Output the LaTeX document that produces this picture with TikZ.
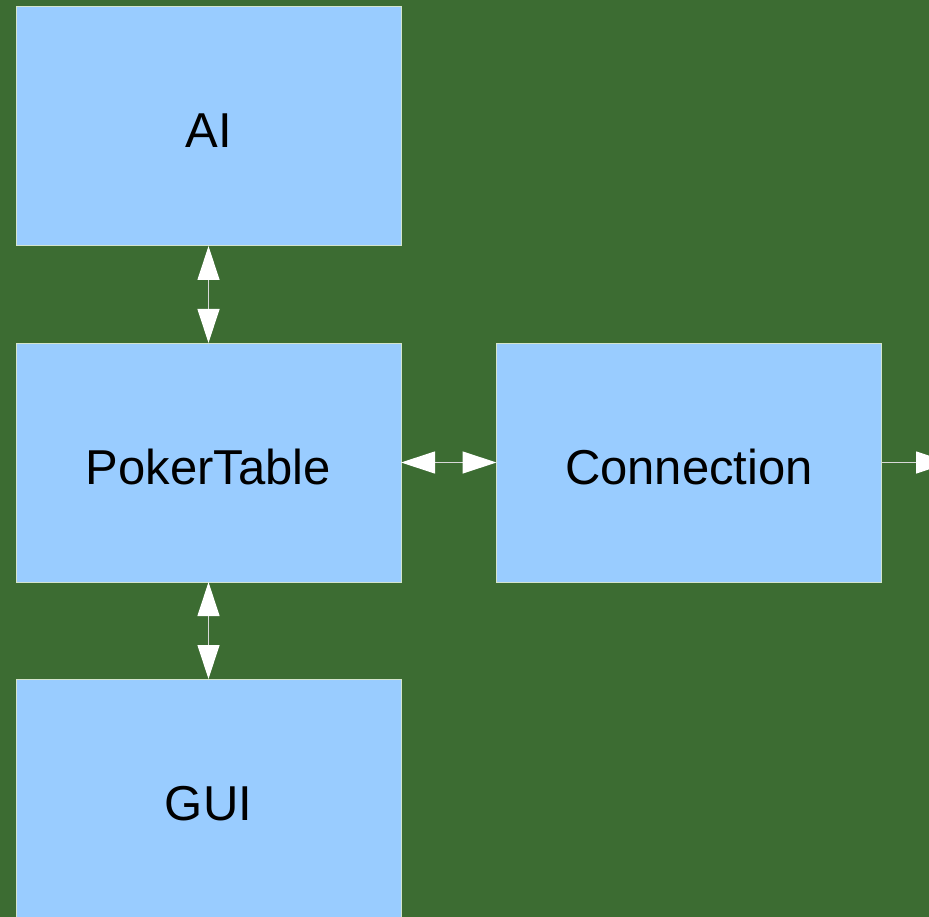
\documentclass[tikz,border=0pt]{standalone}
\usepackage{fontspec}
\setmainfont{Liberation Sans}
\usetikzlibrary{arrows.meta}
\definecolor{bggreen}{HTML}{3C6C32}
\definecolor{boxblue}{HTML}{99CCFF}
\definecolor{boxedge}{HTML}{D4E4CC}
\definecolor{arrline}{HTML}{D8D8D8}
\tikzset{
  module/.style={draw=boxedge, line width=1pt, fill=boxblue, inner sep=0pt, outer sep=0pt,
    minimum width=385pt, minimum height=239pt, font=\fontsize{49}{53}\selectfont, text=black,
    text height=43pt, text depth=0pt},
  link/.style={draw=arrline, line width=1.2pt,
    {Triangle[width=22pt,length=34pt,fill=white,color=white]}-{Triangle[width=22pt,length=34pt,fill=white,color=white]}},
  outlink/.style={draw=arrline, line width=1.2pt,
    -{Triangle[width=22pt,length=34pt,fill=white,color=white]}}
}
\begin{document}
\begin{tikzpicture}[x=1pt,y=-1pt]
  \useasboundingbox (0,0) rectangle (929,917);
  \clip (0,0) rectangle (929,917);
  \fill[bggreen] (0,0) rectangle (929,917);
  \node[module] (ai) at (208.5,126.5) {AI};
  \node[module] (pt) at (208.5,462.5) {PokerTable};
  \node[module] (conn) at (689,462.5) {Connection};
  \node[module] (gui) at (208.5,798.5) {GUI};
  \coordinate (out) at (950,462.5);
  \draw[link] (ai.south) -- (pt.north);
  \draw[link] (pt.south) -- (gui.north);
  \draw[link] (pt.east) -- (conn.west);
  \draw[outlink] (conn.east) -- (out);
\end{tikzpicture}
\end{document}
